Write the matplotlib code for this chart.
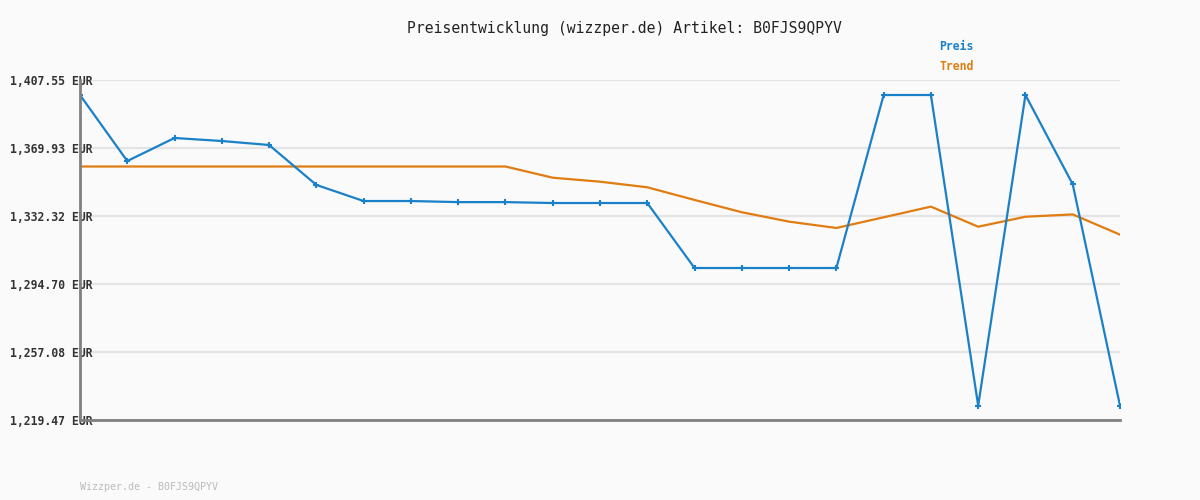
import numpy as np
import matplotlib.pyplot as plt

# Preisverlauf, Werte (EUR)
preis = [1399.25, 1362.74, 1375.47, 1373.80, 1371.60, 1349.50, 1340.60, 1340.60,
         1340.00, 1340.00, 1339.50, 1339.50, 1339.50, 1303.55, 1303.55, 1303.55,
         1303.55, 1399.25, 1399.25, 1227.40, 1399.25, 1349.85, 1227.40]
trend = [1359.70, 1359.70, 1359.70, 1359.70, 1359.70, 1359.70, 1359.70, 1359.70,
         1359.70, 1359.70, 1353.50, 1351.30, 1348.20, 1341.20, 1334.40, 1329.20,
         1325.70, 1331.60, 1337.50, 1326.40, 1331.90, 1333.20, 1322.00]
yticks = [1219.47, 1257.08, 1294.70, 1332.32, 1369.93, 1407.55]
ytick_labels = ['1,219.47 EUR', '1,257.08 EUR', '1,294.70 EUR',
                '1,332.32 EUR', '1,369.93 EUR', '1,407.55 EUR']

blue = '#1a80c8'
orange = '#e07c12'
bg = '#fafafa'
mono = 'DejaVu Sans Mono'

fig = plt.figure(figsize=(12, 5), dpi=100, facecolor=bg)
ax = fig.add_axes([80/1200, 80/500, 1040/1200, 340/500])
ax.set_facecolor(bg)

x = np.arange(len(preis))
ax.plot(x, trend, color=orange, lw=1.6, zorder=3)
ax.plot(x, preis, color=blue, lw=1.6, marker='+', ms=5, mew=1.5, zorder=4)

ax.set_xlim(0, len(preis) - 1)
ax.set_ylim(yticks[0], yticks[-1])
ax.set_xticks([])
ax.set_yticks(yticks)
ax.set_yticklabels(ytick_labels, fontfamily=mono, fontweight='bold',
                   fontsize=8.3, color='#333333', ha='left')
ax.tick_params(axis='y', length=0, pad=50.4)
ax.grid(axis='y', color='#e4e4e4', lw=1.6, zorder=0)

for s in ['top', 'right']:
    ax.spines[s].set_visible(False)
for s in ['left', 'bottom']:
    ax.spines[s].set_color('#808080')
    ax.spines[s].set_linewidth(2)
    ax.spines[s].set_zorder(5)

fig.text(624/1200, 1 - 28/500, 'Preisentwicklung (wizzper.de) Artikel: B0FJS9QPYV',
         ha='center', va='center', fontfamily=mono, fontsize=10.6, color='#222222')
fig.text(939/1200, 1 - 47/500, 'Preis', ha='left', va='center',
         fontfamily=mono, fontweight='bold', fontsize=8.3, color=blue)
fig.text(939/1200, 1 - 67/500, 'Trend', ha='left', va='center',
         fontfamily=mono, fontweight='bold', fontsize=8.3, color=orange)
fig.text(80/1200, 1 - 487/500, 'Wizzper.de - B0FJS9QPYV', ha='left', va='center',
         fontfamily=mono, fontsize=7.2, color='#bbbbbb')

fig.savefig('out.png', dpi=100, facecolor=bg)
